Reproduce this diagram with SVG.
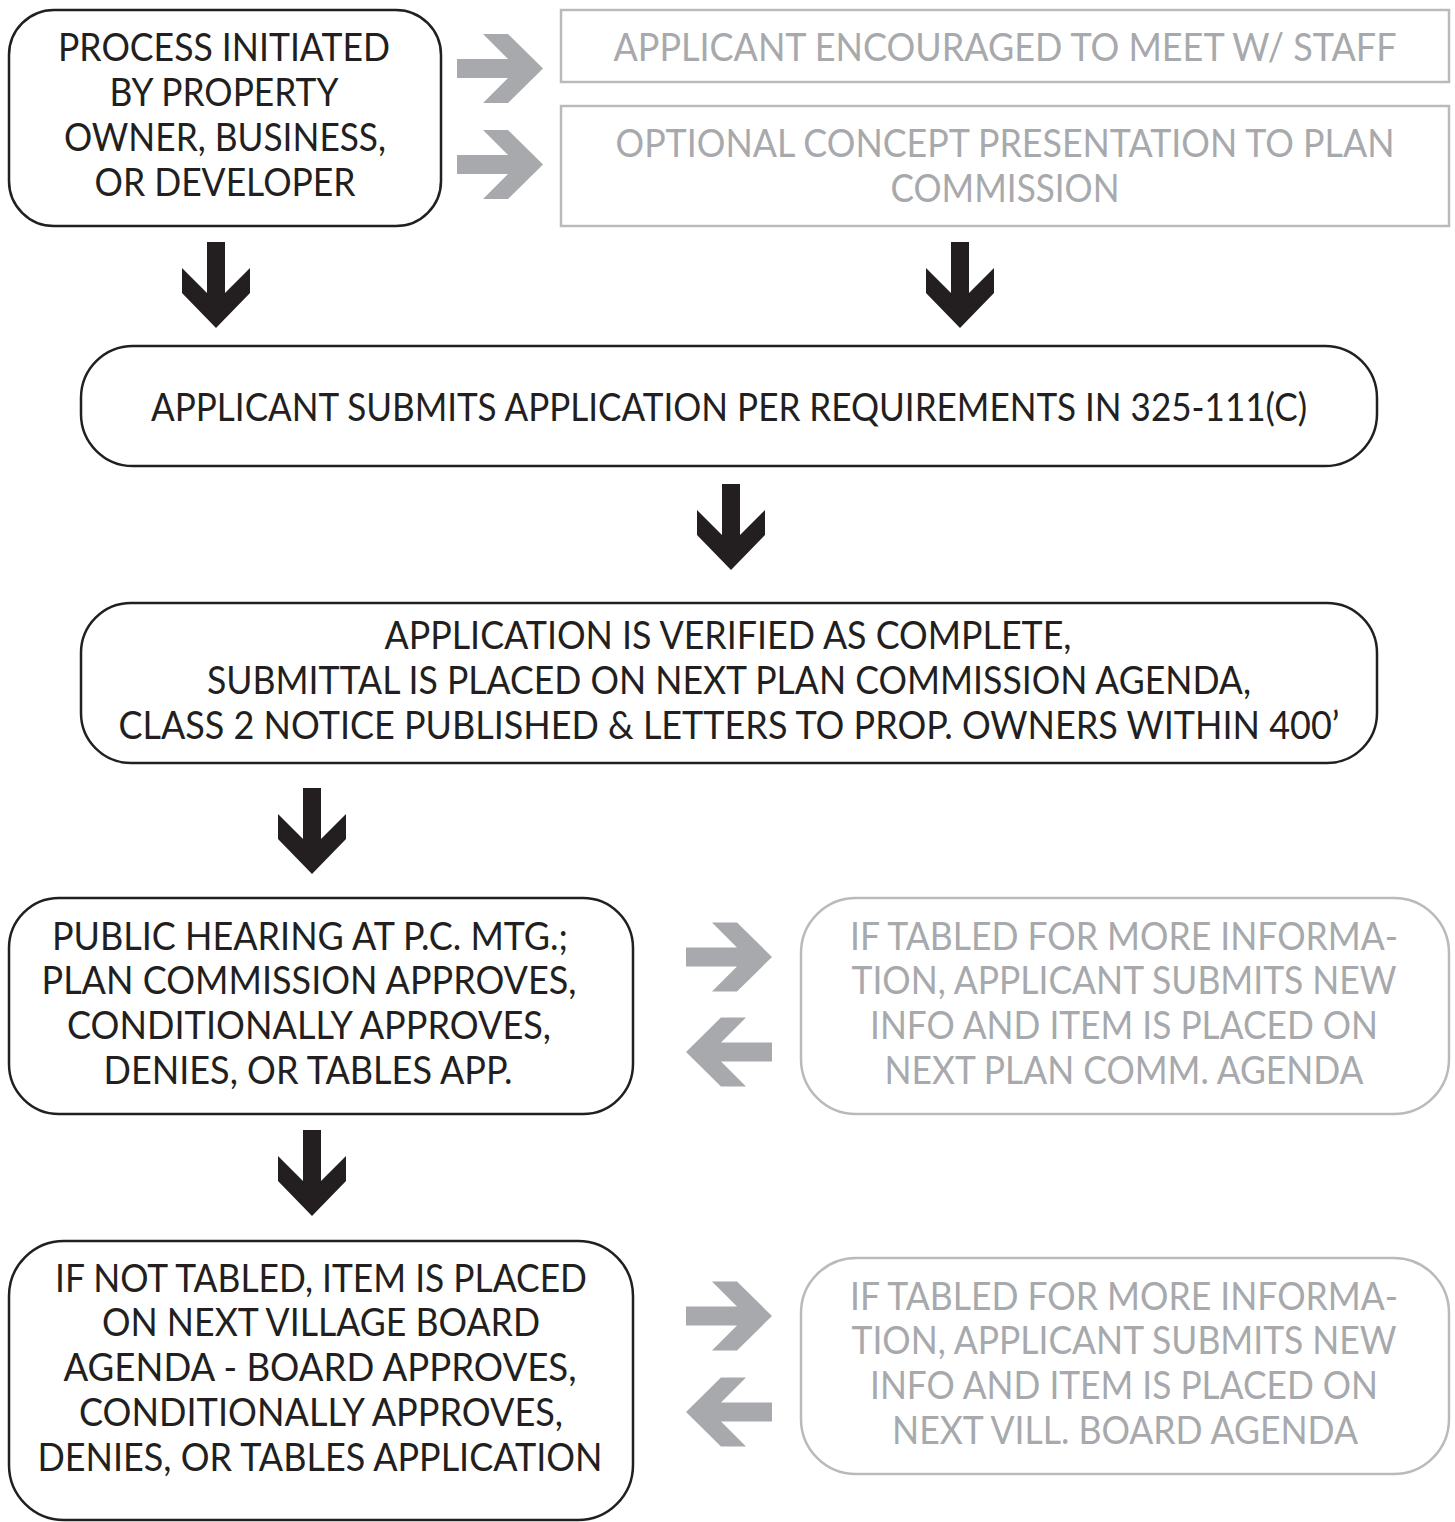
<svg xmlns="http://www.w3.org/2000/svg" xmlns:xlink="http://www.w3.org/1999/xlink" width="1455" height="1522" viewBox="0 0 1455 1522">
<style>
.bk{fill:#fff;stroke:#231f20;stroke-width:2.5}
.gy{fill:#fff;stroke:#b9babd;stroke-width:2.5}
text{font-family:"Lato","Liberation Sans",sans-serif;font-size:38px;text-anchor:middle}
.tb{fill:#231f20}
.tg{fill:#a7a9ac}
.ab{fill:#231f20}
.ag{fill:#a7a9ac}
</style>
<defs>
<path id="down" d="M-9,0 h18 v51 l25,-25 v25 l-34,35 l-34,-35 v-25 l25,25 z"/>
<path id="right" d="M0,-9.5 h51 l-25,-25 h25 l35,34.5 l-35,34.5 h-25 l25,-25 h-51 z"/>
</defs>
<rect width="1455" height="1522" fill="#fff"/>
<g id="connectors">
<use href="#right" class="ag" x="457" y="68.5"/>
<use href="#right" class="ag" x="457" y="164.5"/>
<use href="#down" class="ab" x="216" y="242"/>
<use href="#down" class="ab" x="960" y="242"/>
<use href="#down" class="ab" x="731" y="484"/>
<use href="#down" class="ab" x="312" y="788"/>
<use href="#right" class="ag" x="686" y="957"/>
<use href="#right" class="ag" transform="translate(772,1052) scale(-1,1)"/>
<use href="#down" class="ab" x="312" y="1130"/>
<use href="#right" class="ag" x="686" y="1316"/>
<use href="#right" class="ag" transform="translate(772,1412) scale(-1,1)"/>
</g>
<g id="node-initiated">
<rect class="bk" x="9" y="10" width="432" height="216" rx="45"/>
<text class="tb" x="224" y="61" textLength="332" lengthAdjust="spacingAndGlyphs">PROCESS INITIATED</text>
<text class="tb" x="224" y="106" textLength="229" lengthAdjust="spacingAndGlyphs">BY PROPERTY</text>
<text class="tb" x="225" y="151" textLength="322" lengthAdjust="spacingAndGlyphs">OWNER, BUSINESS,</text>
<text class="tb" x="225" y="196" textLength="261" lengthAdjust="spacingAndGlyphs">OR DEVELOPER</text>
</g>
<g id="node-meet-staff">
<rect class="gy" x="561" y="10" width="888" height="72"/>
<text class="tg" x="1005" y="61" textLength="783" lengthAdjust="spacingAndGlyphs">APPLICANT ENCOURAGED TO MEET W/ STAFF</text>
</g>
<g id="node-concept">
<rect class="gy" x="561" y="106" width="888" height="120"/>
<text class="tg" x="1005" y="157" textLength="779" lengthAdjust="spacingAndGlyphs">OPTIONAL CONCEPT PRESENTATION TO PLAN</text>
<text class="tg" x="1005" y="202" textLength="229" lengthAdjust="spacingAndGlyphs">COMMISSION</text>
</g>
<g id="node-submit">
<rect class="bk" x="81" y="346" width="1296" height="120" rx="52"/>
<text class="tb" x="729" y="421" textLength="1156" lengthAdjust="spacingAndGlyphs">APPLICANT SUBMITS APPLICATION PER REQUIREMENTS IN 325-111(C)</text>
</g>
<g id="node-verified">
<rect class="bk" x="81" y="603" width="1296" height="160" rx="50"/>
<text class="tb" x="728" y="649" textLength="687" lengthAdjust="spacingAndGlyphs">APPLICATION IS VERIFIED AS COMPLETE,</text>
<text class="tb" x="729" y="694" textLength="1044" lengthAdjust="spacingAndGlyphs">SUBMITTAL IS PLACED ON NEXT PLAN COMMISSION AGENDA,</text>
<text class="tb" x="729" y="739" textLength="1221" lengthAdjust="spacingAndGlyphs">CLASS 2 NOTICE PUBLISHED &amp; LETTERS TO PROP. OWNERS WITHIN 400’</text>
</g>
<g id="node-hearing">
<rect class="bk" x="9" y="898" width="624" height="216" rx="50"/>
<text class="tb" x="310" y="950" textLength="516" lengthAdjust="spacingAndGlyphs">PUBLIC HEARING AT P.C. MTG.;</text>
<text class="tb" x="309" y="994" textLength="535" lengthAdjust="spacingAndGlyphs">PLAN COMMISSION APPROVES,</text>
<text class="tb" x="309" y="1039" textLength="484" lengthAdjust="spacingAndGlyphs">CONDITIONALLY APPROVES,</text>
<text class="tb" x="308" y="1084" textLength="409" lengthAdjust="spacingAndGlyphs">DENIES, OR TABLES APP.</text>
</g>
<g id="node-tabled-pc">
<rect class="gy" x="801" y="898" width="648" height="216" rx="55"/>
<text class="tg" x="1124" y="950" textLength="548" lengthAdjust="spacingAndGlyphs">IF TABLED FOR MORE INFORMA-</text>
<text class="tg" x="1124" y="994" textLength="545" lengthAdjust="spacingAndGlyphs">TION, APPLICANT SUBMITS NEW</text>
<text class="tg" x="1124" y="1039" textLength="508" lengthAdjust="spacingAndGlyphs">INFO AND ITEM IS PLACED ON</text>
<text class="tg" x="1124" y="1084" textLength="479" lengthAdjust="spacingAndGlyphs">NEXT PLAN COMM. AGENDA</text>
</g>
<g id="node-board">
<rect class="bk" x="9" y="1241" width="624" height="279" rx="55"/>
<text class="tb" x="321" y="1292" textLength="532" lengthAdjust="spacingAndGlyphs">IF NOT TABLED, ITEM IS PLACED</text>
<text class="tb" x="321" y="1336" textLength="438" lengthAdjust="spacingAndGlyphs">ON NEXT VILLAGE BOARD</text>
<text class="tb" x="320" y="1381" textLength="513" lengthAdjust="spacingAndGlyphs">AGENDA - BOARD APPROVES,</text>
<text class="tb" x="321" y="1426" textLength="484" lengthAdjust="spacingAndGlyphs">CONDITIONALLY APPROVES,</text>
<text class="tb" x="320" y="1471" textLength="565" lengthAdjust="spacingAndGlyphs">DENIES, OR TABLES APPLICATION</text>
</g>
<g id="node-tabled-vb">
<rect class="gy" x="801" y="1258" width="648" height="216" rx="55"/>
<text class="tg" x="1124" y="1310" textLength="548" lengthAdjust="spacingAndGlyphs">IF TABLED FOR MORE INFORMA-</text>
<text class="tg" x="1124" y="1354" textLength="545" lengthAdjust="spacingAndGlyphs">TION, APPLICANT SUBMITS NEW</text>
<text class="tg" x="1124" y="1399" textLength="508" lengthAdjust="spacingAndGlyphs">INFO AND ITEM IS PLACED ON</text>
<text class="tg" x="1125" y="1444" textLength="466" lengthAdjust="spacingAndGlyphs">NEXT VILL. BOARD AGENDA</text>
</g>
</svg>
